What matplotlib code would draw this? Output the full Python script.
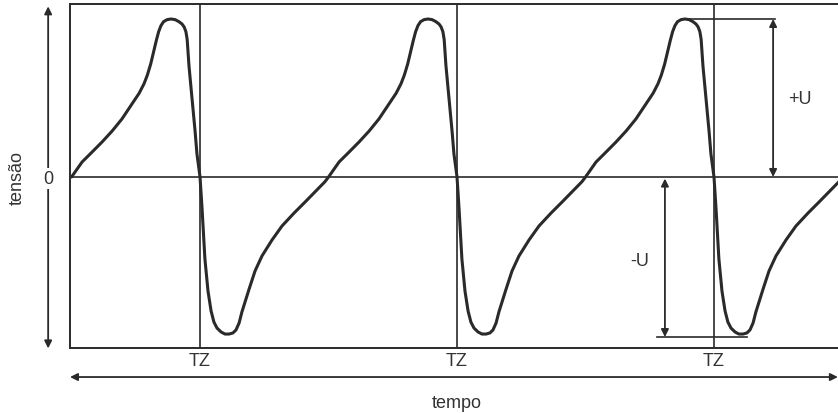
import matplotlib
matplotlib.use("Agg")
import matplotlib.pyplot as plt
import numpy as np

plt.rcParams['font.family'] = ['Liberation Sans', 'DejaVu Sans']

# ---- data ----
# one cycle around a zero transition TZ: time offset (periods) and voltage (relative to U)
cycle_dt = [-0.500, -0.459, -0.420, -0.381, -0.342, -0.304, -0.265, -0.237, -0.218,
            -0.205, -0.192, -0.181, -0.170, -0.161, -0.152, -0.142, -0.128, -0.113, -0.097,
            -0.082, -0.070, -0.062, -0.055, -0.050, -0.043, -0.031, -0.019, -0.012,
            0.0, 0.008, 0.019, 0.031, 0.043, 0.054, 0.066, 0.082, 0.097, 0.113, 0.128,
            0.140, 0.152, 0.163, 0.179, 0.191, 0.214, 0.241, 0.280, 0.319, 0.366,
            0.409, 0.447, 0.486]
cycle_v = [0.0, 0.095, 0.158, 0.222, 0.291, 0.367, 0.462, 0.530, 0.590,
           0.645, 0.715, 0.790, 0.865, 0.920, 0.958, 0.983, 0.996, 1.0, 0.996,
           0.983, 0.968, 0.950, 0.920, 0.870, 0.703, 0.494, 0.285, 0.146,
           0.0, -0.203, -0.519, -0.722, -0.848, -0.918, -0.956, -0.981, -0.994, -0.994, -0.987,
           -0.968, -0.924, -0.854, -0.772, -0.709, -0.595, -0.500, -0.399, -0.310, -0.228,
           -0.158, -0.095, -0.030]
tz_positions = [1, 2, 3]
tz_labels = ["TZ", "TZ", "TZ"]
U_plus = 1.0
U_minus = -1.0

# ---- figure ----
W, H = 838, 414
fig = plt.figure(figsize=(W / 100, H / 100), dpi=100)
ax = fig.add_axes([70 / W, 1 - 349 / H, 1 - 70 / W, 344 / H])
ax.set_xlim(0.494, 3.4825)
ax.set_ylim(-1.0823, 1.0949)

col = '#2a2a2a'
for s in ['left', 'top', 'bottom']:
    ax.spines[s].set_color(col)
    ax.spines[s].set_linewidth(1.4)
ax.spines['right'].set_visible(False)
ax.set_xticks([])
ax.set_yticks([])

# zero line
ax.axhline(0, color=col, lw=1.2)
# TZ lines
for tz in tz_positions:
    ax.axvline(tz, color=col, lw=1.2)

# waveform
xs, ys = [], []
for tz in tz_positions:
    xs.extend([tz + d for d in cycle_dt])
    ys.extend(cycle_v)
ax.plot(xs, ys, color=col, lw=2.2, solid_joinstyle='round', solid_capstyle='round')

# TZ labels
for tz, lab in zip(tz_positions, tz_labels):
    ax.text(tz, -1.16, lab, ha='center', va='center', fontsize=13, color='#333',
            clip_on=False)

arrow_kw = dict(arrowstyle='<|-|>', color=col, lw=1.3, mutation_scale=11,
                shrinkA=0, shrinkB=0)

# time axis arrow
ax.annotate('', xy=(0.494, -1.266), xytext=(3.482, -1.266),
            arrowprops=arrow_kw, annotation_clip=False)
ax.text(2.0, -1.43, 'tempo', ha='center', va='center', fontsize=13, color='#333',
        clip_on=False)

# voltage axis arrow
ax.annotate('', xy=(0.409, 1.08), xytext=(0.409, -1.085),
            arrowprops=arrow_kw, annotation_clip=False)
ax.text(0.409, -0.01, '0', ha='center', va='center', fontsize=13, color='#333',
        clip_on=False, bbox=dict(facecolor='white', edgecolor='none', pad=1.5))
ax.text(0.29, 0.0, 'tensão', ha='center', va='center', fontsize=13, color='#333',
        rotation=90, clip_on=False)

# +U dimension
ax.plot([2.879, 3.237], [U_plus, U_plus], color=col, lw=1.2)
ax.annotate('', xy=(3.23, U_plus), xytext=(3.23, 0),
            arrowprops=arrow_kw, annotation_clip=False)
ax.text(3.335, 0.494, '+U', ha='center', va='center', fontsize=13, color='#333')

# -U dimension
ax.plot([2.778, 3.128], [U_minus - 0.013, U_minus - 0.013], color=col, lw=1.2)
ax.annotate('', xy=(2.809, -0.01), xytext=(2.809, U_minus - 0.013),
            arrowprops=arrow_kw, annotation_clip=False)
ax.text(2.712, -0.53, '-U', ha='center', va='center', fontsize=13, color='#333')

fig.savefig('out.png', dpi=100)
